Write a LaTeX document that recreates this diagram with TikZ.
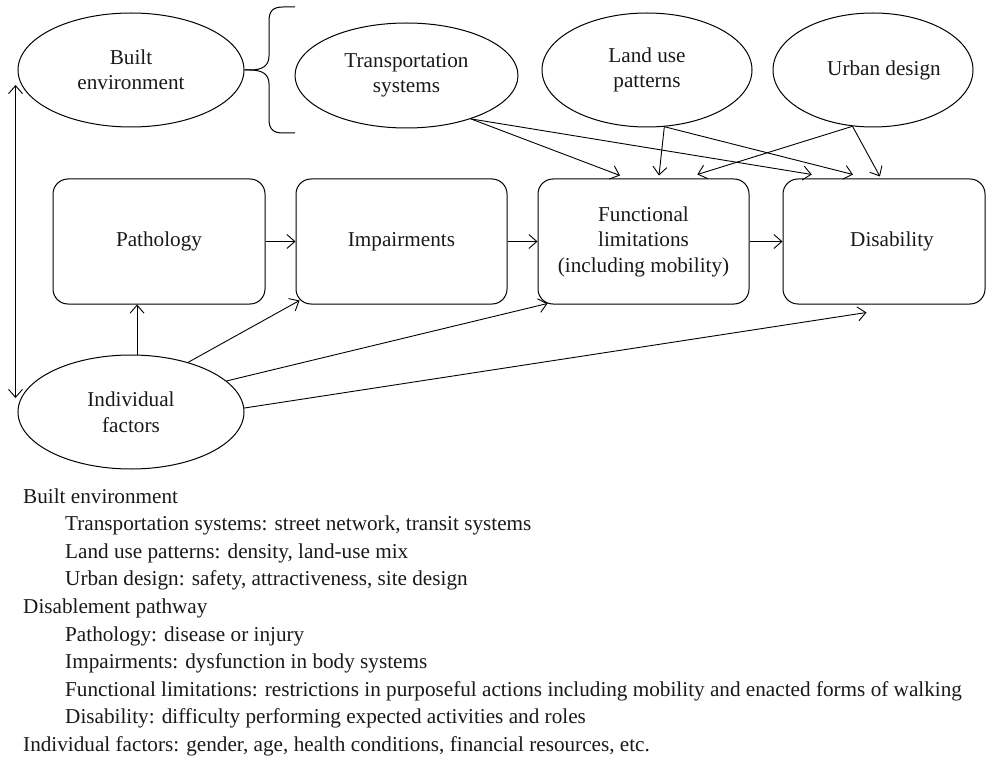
\documentclass[tikz,border=0pt]{standalone}
\usepackage{fontspec}
\setmainfont{Liberation Serif}
\usetikzlibrary{shapes.geometric,arrows.meta,calc}
\begin{document}
\begin{tikzpicture}[x=1pt,y=-1pt,
  every node/.style={font=\fontsize{21.2}{25.5}\selectfont, text=black!90},
  ell/.style={ellipse, draw, line width=1pt, inner sep=0pt, align=center},
  box/.style={rectangle, rounded corners=15pt, draw, line width=1pt, align=center, minimum height=125pt, inner sep=0pt},
  arr/.style={-{Straight Barb[length=8pt,width=14pt]}, line width=0.9pt},
  arrb/.style={{Straight Barb[length=8pt,width=14pt]}-{Straight Barb[length=8pt,width=14pt]}, line width=0.9pt},
  lst/.style={anchor=base west, inner sep=0pt}
]
\useasboundingbox (0,0) rectangle (987,759);

% ellipses
\node[ell, minimum width=226pt, minimum height=114pt] (be) at (131,70) {Built\\environment};
\node[ell, minimum width=223pt, minimum height=105pt] (ts) at (406.5,75.5) {Transportation\\systems};
\node[ell, minimum width=210pt, minimum height=114pt] (lu) at (647,70) {Land use\\patterns};
\node[ell, minimum width=200pt, minimum height=114pt] (ud) at (873,70) {\hspace*{22pt}Urban design};
\node[ell, minimum width=226pt, minimum height=114pt] (if) at (131,412) {Individual\\factors};

% boxes
\node[box, minimum width=212pt] (pa) at (159,241.5) {Pathology};
\node[box, minimum width=211pt] (im) at (401.5,241.5) {Impairments};
\node[box, minimum width=211pt] (fl) at (643.5,241.5) {Functional\\limitations\\(including mobility)};
\node[box, minimum width=202pt] (di) at (884,241.5) {\hspace*{16pt}Disability};

% brace
\draw[line width=1pt] (be.east) -- (250,70) .. controls (262,70) and (269,66) .. (269,56)
  -- (269,21) .. controls (269,11) and (273,7) .. (283,7) -- (295,7);
\draw[line width=1pt] (be.east) -- (250,70) .. controls (262,70) and (269,74) .. (269,84)
  -- (269,119) .. controls (269,129) and (273,133) .. (283,133) -- (295,133);

% pathway
\draw[arr] (pa.east) -- (im.west);
\draw[arr] (im.east) -- (fl.west);
\draw[arr] (fl.east) -- (di.west);

% built environment components
\draw[arr] (ts.-34) -- ($(fl.north west)!0.389!(fl.north east)+(0,-3)$);
\draw[arr] (ts.-34) -- ($(di.north west)!0.144!(di.north east)+(0,-4)$);
\draw[arr] (lu.-73) -- ($(fl.north west)!0.573!(fl.north east)+(0,-3)$);
\draw[arr] (lu.-73) -- ($(di.north west)!0.347!(di.north east)+(0,-4)$);
\draw[arr] (ud.-110) -- ($(fl.north west)!0.754!(fl.north east)+(0,-4)$);
\draw[arr] (ud.-110) -- ($(di.north west)!0.48!(di.north east)+(0,-2)$);

% individual factors
\draw[arr] (if.84) -- (if.84 |- pa.south);
\draw[arr] (if.41) -- ($(im.south west)+(4,-4)$);
\draw[arr] (if.18) -- ($(fl.south west)+(10,-1)$);
\draw[arr] (if.2) -- ($(di.south west)+(84,8)$);
\draw[arrb] ($(be.west)+(-2,15)$) -- ($(if.west)+(-2,-14)$);

% legend
\node[lst] (t1) at (23,503) {Built environment};
\node[lst] (t2) at (65,530.6) {Transportation systems: street network, transit systems};
\node[lst] (t3) at (65,558.2) {Land use patterns: density, land-use mix};
\node[lst] (t4) at (65,585.8) {Urban design: safety, attractiveness, site design};
\node[lst] (t5) at (23,613.4) {Disablement pathway};
\node[lst] (t6) at (65,641) {Pathology: disease or injury};
\node[lst] (t7) at (65,668.6) {Impairments: dysfunction in body systems};
\node[lst] (t8) at (65,696.2) {Functional limitations: restrictions in purposeful actions including mobility and enacted forms of walking};
\node[lst] (t9) at (65,723.8) {Disability: difficulty performing expected activities and roles};
\node[lst] (t10) at (23,751.4) {Individual factors: gender, age, health conditions, financial resources, etc.};
\end{tikzpicture}
\end{document}
